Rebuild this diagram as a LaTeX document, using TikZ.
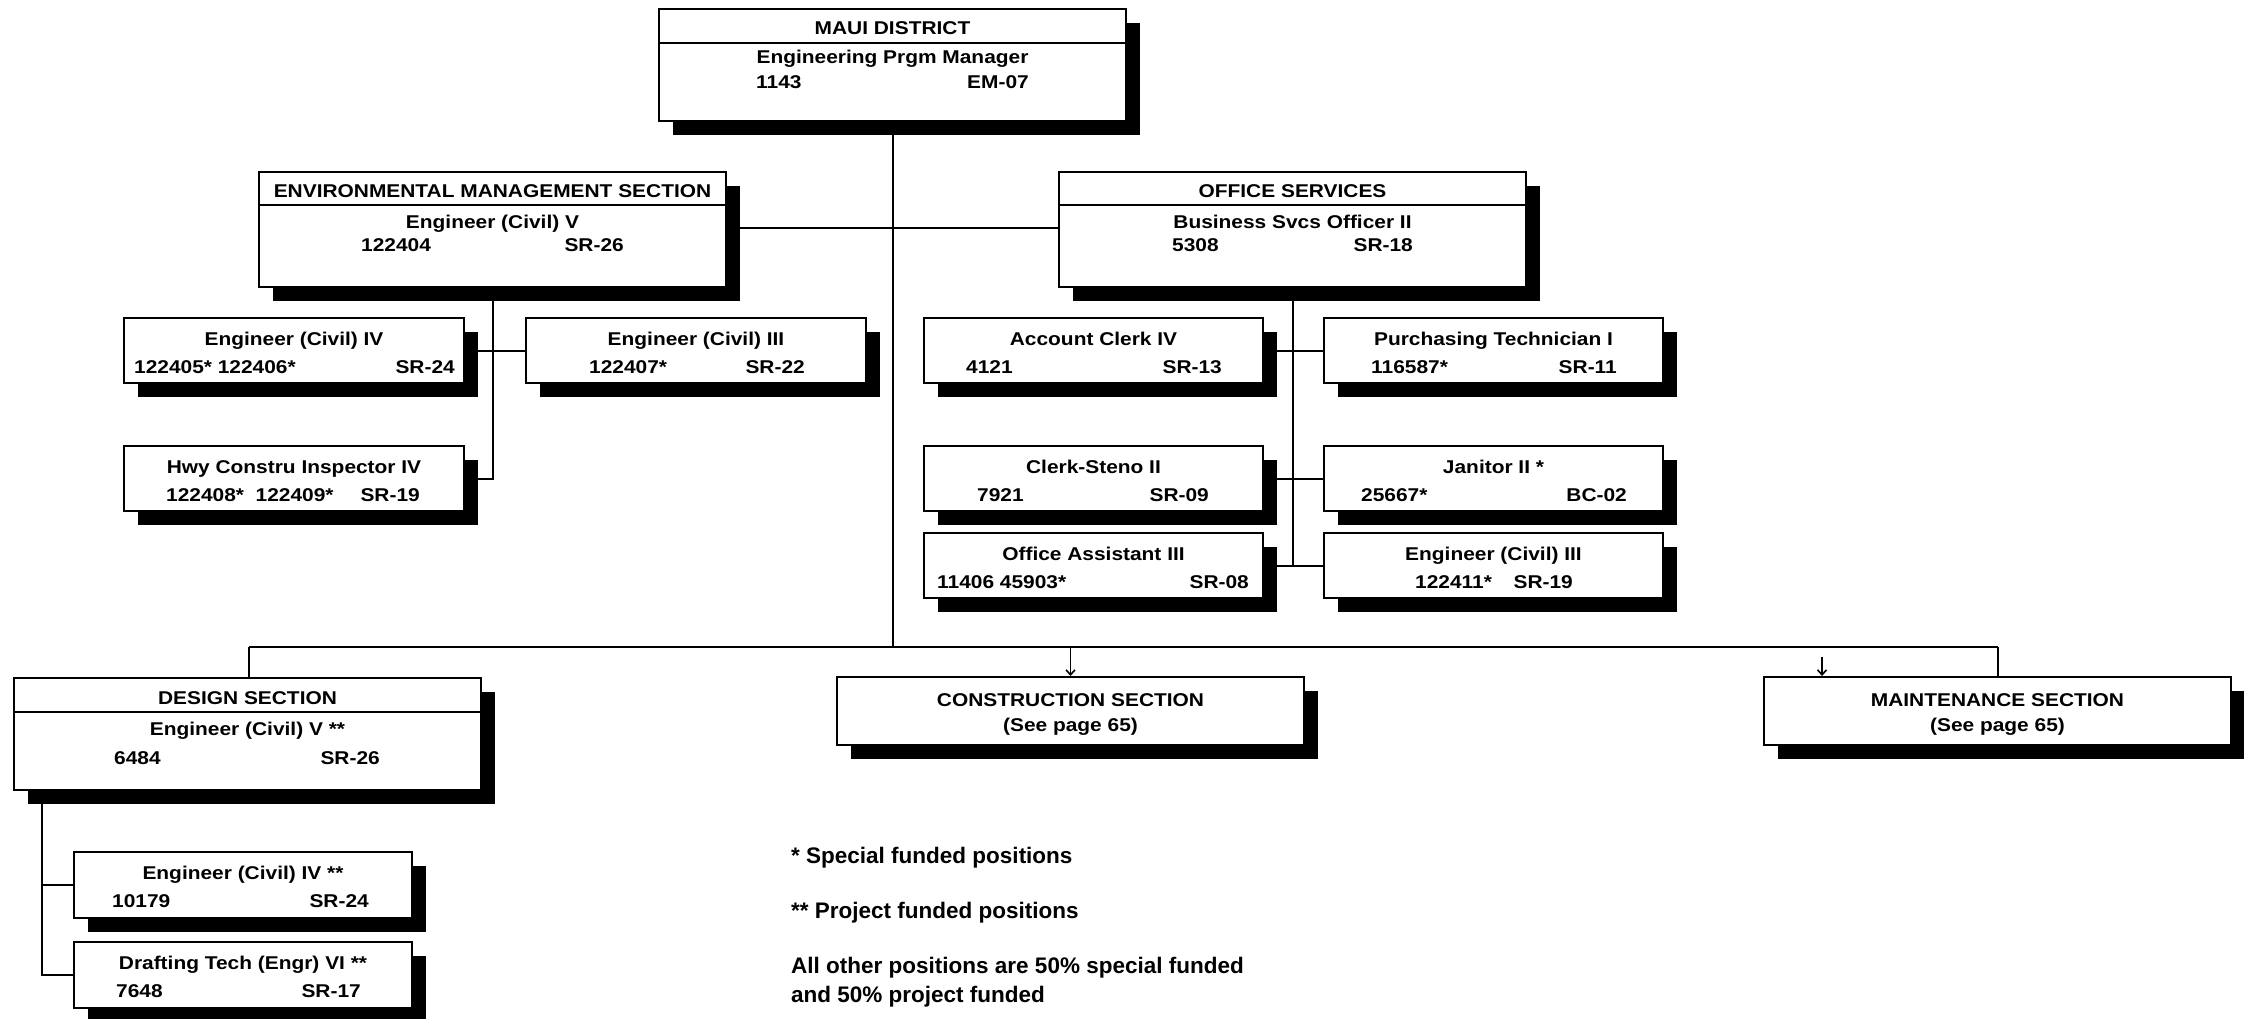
\documentclass[tikz,border=0pt]{standalone}
\usepackage{fontspec}
\setmainfont{Liberation Sans}[FakeStretch=1.13]
\newfontfamily\notefont{Liberation Sans}
\usetikzlibrary{fit,shadows,arrows.meta}
\pgfdeclarelayer{background}
\pgfsetlayers{background,main}
\tikzset{
 box/.style={draw, line width=2pt, fill=white, inner sep=0pt,
   drop shadow={shadow xshift=14pt,shadow yshift=-14pt,fill=black,opacity=1}},
 txt/.style={font=\fontsize{18.5}{22}\selectfont\bfseries, inner sep=0pt},
 lft/.style={txt, anchor=base west},
 rgt/.style={txt, anchor=base east},
 ctr/.style={txt, anchor=base},
 note/.style={font=\notefont\fontsize{22.5}{28}\selectfont\bfseries, anchor=base west, inner sep=0pt},
 conn/.style={line width=2pt},
 stub/.style={line width=1.6pt, -{Straight Barb[length=5pt,width=9pt]}},
 divider/.style={line width=2pt},
}
\begin{document}
\begin{tikzpicture}[x=1pt,y=-1pt]
\useasboundingbox (0,0) rectangle (2244,1018);

% ---------- boxes ----------
\node[box, fit={(659,9)(1126,121)}] (top) {};
\node[box, fit={(259,172)(726,287)}] (env) {};
\node[box, fit={(1059,172)(1526,287)}] (office) {};
\node[box, fit={(124,318)(464,383)}] (eng4) {};
\node[box, fit={(526,318)(866,383)}] (eng3) {};
\node[box, fit={(124,446)(464,511)}] (hwy) {};
\node[box, fit={(924,318)(1263,383)}] (acct) {};
\node[box, fit={(1324,318)(1663,383)}] (purch) {};
\node[box, fit={(924,446)(1263,511)}] (steno) {};
\node[box, fit={(1324,446)(1663,511)}] (janitor) {};
\node[box, fit={(924,533)(1263,598)}] (offasst) {};
\node[box, fit={(1324,533)(1663,598)}] (eng3b) {};
\node[box, fit={(14,678)(481,790)}] (design) {};
\node[box, fit={(837,677)(1304,745)}] (constr) {};
\node[box, fit={(1764,677)(2231,745)}] (maint) {};
\node[box, fit={(74,852)(412,918)}] (deng4) {};
\node[box, fit={(74,942)(412,1008)}] (draft) {};

% dividers
\draw[divider] (659,43) -- (1126,43);
\draw[divider] (259,205) -- (726,205);
\draw[divider] (1059,205) -- (1526,205);
\draw[divider] (14,712) -- (481,712);

% ---------- texts ----------
\node[ctr] (topT) at (892.5,34) {MAUI DISTRICT};
\node[ctr] (topA) at (892.5,63) {Engineering Prgm Manager};
\node[lft] (topN) at (756,88) {1143};
\node[rgt] (topG) at (1029,88) {EM-07};

\node[ctr] (envT) at (492.5,197) {ENVIRONMENTAL MANAGEMENT SECTION};
\node[ctr] (envA) at (492.5,228) {Engineer (Civil) V};
\node[lft] (envN) at (361,251) {122404};
\node[rgt] (envG) at (624,251) {SR-26};

\node[ctr] (offT) at (1292.5,197) {OFFICE SERVICES};
\node[ctr] (offA) at (1292.5,228) {Business Svcs Officer II};
\node[lft] (offN) at (1172,251) {5308};
\node[rgt] (offG) at (1413,251) {SR-18};

\node[ctr] (eng4A) at (294,345) {Engineer (Civil) IV};
\node[lft] (eng4N) at (134,373) {122405* 122406*};
\node[rgt] (eng4G) at (455,373) {SR-24};

\node[ctr] (eng3A) at (696,345) {Engineer (Civil) III};
\node[lft] (eng3N) at (589,373) {122407*};
\node[rgt] (eng3G) at (805,373) {SR-22};

\node[ctr] (hwyA) at (294,473) {Hwy Constru Inspector IV};
\node[lft] (hwyN) at (166,501) {122408*\ \ 122409*};
\node[rgt] (hwyG) at (420,501) {SR-19};

\node[ctr] (acctA) at (1093.5,345) {Account Clerk IV};
\node[lft] (acctN) at (966,373) {4121};
\node[rgt] (acctG) at (1222,373) {SR-13};

\node[ctr] (purchA) at (1493.5,345) {Purchasing Technician I};
\node[lft] (purchN) at (1371,373) {116587*};
\node[rgt] (purchG) at (1617,373) {SR-11};

\node[ctr] (stenoA) at (1093.5,473) {Clerk-Steno II};
\node[lft] (stenoN) at (977,501) {7921};
\node[rgt] (stenoG) at (1209,501) {SR-09};

\node[ctr] (janA) at (1493.5,473) {Janitor II *};
\node[lft] (janN) at (1361,501) {25667*};
\node[rgt] (janG) at (1627,501) {BC-02};

\node[ctr] (oaA) at (1093.5,560) {Office Assistant III};
\node[lft] (oaN) at (937,588) {11406 45903*};
\node[rgt] (oaG) at (1249,588) {SR-08};

\node[ctr] (e3bA) at (1493.5,560) {Engineer (Civil) III};
\node[lft] (e3bN) at (1415,588) {122411*};
\node[rgt] (e3bG) at (1573,588) {SR-19};

\node[ctr] (desT) at (247.5,704) {DESIGN SECTION};
\node[ctr] (desA) at (247.5,735) {Engineer (Civil) V **};
\node[lft] (desN) at (114,764) {6484};
\node[rgt] (desG) at (380,764) {SR-26};

\node[ctr] (conT) at (1070.5,706) {CONSTRUCTION SECTION};
\node[ctr] (conA) at (1070.5,731) {(See page 65)};

\node[ctr] (mainT) at (1997.5,706) {MAINTENANCE SECTION};
\node[ctr] (mainA) at (1997.5,731) {(See page 65)};

\node[ctr] (d4A) at (243,879) {Engineer (Civil) IV **};
\node[lft] (d4N) at (112,907) {10179};
\node[rgt] (d4G) at (369,907) {SR-24};

\node[ctr] (drA) at (243,969) {Drafting Tech (Engr) VI **};
\node[lft] (drN) at (116,997) {7648};
\node[rgt] (drG) at (361,997) {SR-17};

% notes
\node[note] (note1) at (791,863) {* Special funded positions};
\node[note] (note2) at (791,918) {** Project funded positions};
\node[note] (note3) at (791,973) {All other positions are 50\% special funded};
\node[note] (note4) at (791,1002) {and 50\% project funded};

% ---------- connectors ----------
\begin{pgfonlayer}{background}
\coordinate (busL) at (249,647);
\coordinate (busR) at (1998,647);
\coordinate (eo) at (900,228);
\coordinate (dtrunk) at (42,790);
\coordinate (mstub) at (1822,657);
\coordinate (cstub) at (constr.north |- busL);

\draw[conn] (top.south) -- (top.south |- busL);
\draw[conn] (busL) -- (busR);
\draw[conn] (busL) -- (busL |- design.north);
\draw[conn] (busR) -- (busR |- maint.north);
\draw[stub] (cstub) -- (constr.north);
\draw[stub] (mstub) -- (mstub |- maint.north);

\draw[conn] (env.east |- eo) -- (office.west |- eo);

\draw[conn] (env.south) -- (env.south |- hwy.east) -- (hwy.east);
\draw[conn] (eng4.east) -- (eng3.west);

\draw[conn] (office.south) -- (office.south |- offasst.east);
\draw[conn] (acct.east) -- (purch.west);
\draw[conn] (steno.east) -- (janitor.west);
\draw[conn] (offasst.east) -- (eng3b.west);

\draw[conn] (dtrunk) |- (draft.west);
\draw[conn] (dtrunk |- deng4.west) -- (deng4.west);
\end{pgfonlayer}
\end{tikzpicture}
\end{document}
